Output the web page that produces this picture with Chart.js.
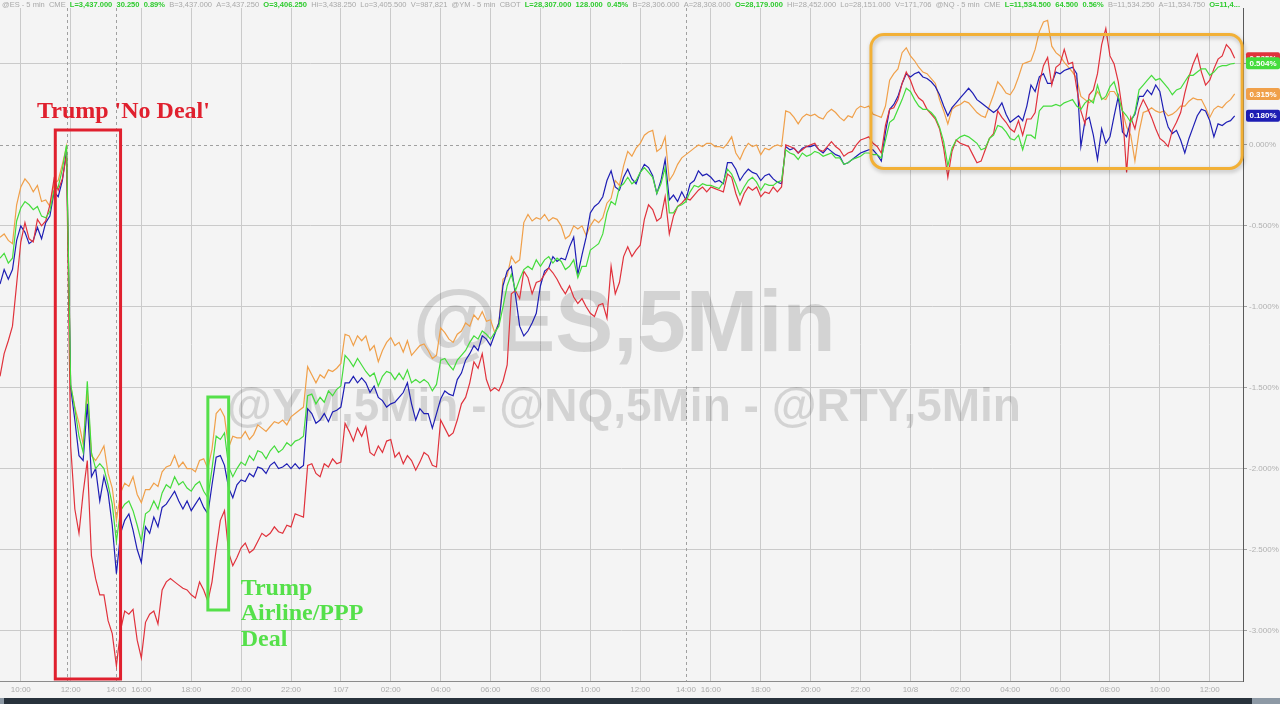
<!DOCTYPE html>
<html><head><meta charset="utf-8">
<script src="https://cdn.jsdelivr.net/npm/chart.js@4.4.1/dist/chart.umd.min.js"></script>
<style>
html,body{margin:0;padding:0;background:#f4f4f4;overflow:hidden;}
#wrap{position:relative;width:1280px;height:704px;}
</style></head><body>
<div id="wrap"><canvas id="c" width="1280" height="704"></canvas></div>
<script>
// ---- trading sessions (10-minute bars, end-stamped, Pacific time) ----
const sessions = [
  ['10/6','09:10','13:20'], ['10/6','13:40','14:00'], ['10/6','15:10','24:00'],
  ['10/7','00:10','13:20'], ['10/7','13:40','14:00'], ['10/7','15:10','24:00'],
  ['10/8','00:10','13:20']
];
const eventMarkers = ['10/6 11:50'];
const tickHours = [0,2,4,6,8,10,12,14,16,18,20,22];

// ---- series values, in hundredths of a percent ----
const esBp = [-70,-67,-73,-70,-47,-39,-35,-37,-40,-38,-44,-45,-41,-28,-26,-15,0,
-148,-163,-180,-190,-146,-190,-200,-197,-200,-210,-222,-245,
-226,-222,-220,-226,-235,-245,-228,-226,-220,-225,-215,-210,-212,-205,-210,-208,-212,-214,-210,-208,-214,-218,-200,-180,-182,-178,
-199,-205,-200,-196,-198,-192,-195,-189,-190,-194,-189,-186,-190,-188,-184,-186,-183,-182,-180,
-155,-154,-160,-156,-159,-152,-155,-151,-149,
-130,-133,-137,-132,-136,-140,-143,-141,-149,-143,-140,-141,-145,-141,-145,-139,-147,-145,-147,-145,-147,-152,-148,
-133,-132,-136,-139,-133,-130,-127,-122,-118,-120,-115,-117,-120,-116,-112,-100,-87,-80,-90,-83,
-77,-75,-77,-71,-75,-71,-69,-73,-70,-72,-77,-75,-71,-82,-75,-75,-65,-63,-61,-55,-42,-35,-37,-26,
-24,-20,-24,-22,-17,
-14,-17,-20,-30,-24,-14,-42,-42,-38,-37,-35,-29,-25,-26,-24,-25,-25,-26,-27,-23,-15,-18,-24,-31,-26,-22,-20,-23,-28,-24,-25,-25,-23,-22,
-3,-5,-6,-9,-5,-7,-6,-4,-5,-7,-6,-5,-8,-8,-12,-11,-9,-8,-7,-5,-5,-6,-6,-8,3,14,16,22,28,35,33,28,24,22,
22,20,17,11,2,-13,-2,3,5,6,5,3,1,-3,-2,4,6,12,11,8,4,3,6,-3,6,6,4,21,24,24,24,25,24,26,27,28,24,22,26,28,26,37,28,30,36,39,30,21,18,14,20,34,37,40,43,40,41,38,35,31,34,35,39,43,43,45,47,47,43,45,48,49,49,50,50.4];

const rtyBp = [-143,-129,-121,-112,-86,-60,-48,-58,-60,-46,-50,-47,-37,-21,-28,-21,-6,
-186,-225,-240,-215,-195,-254,-268,-278,-278,-294,-302,-322,
-300,-288,-290,-287,-306,-317,-295,-290,-288,-296,-275,-270,-268,-270,-272,-274,-275,-278,-280,-270,-275,-282,-270,-250,-232,-226,
-252,-260,-255,-249,-246,-252,-250,-245,-240,-242,-240,-236,-239,-240,-235,-236,-228,-229,-230,
-198,-197,-203,-205,-197,-199,-194,-197,-196,
-172,-177,-183,-175,-180,-174,-190,-192,-186,-190,-183,-182,-193,-190,-197,-192,-195,-201,-196,-190,-192,-198,-199,
-170,-175,-180,-178,-170,-160,-156,-147,-134,-138,-129,-145,-152,-150,-152,-146,-136,-92,-90,-95,
-78,-82,-92,-85,-84,-80,-76,-79,-83,-88,-92,-87,-94,-98,-95,-100,-104,-106,-99,-98,-107,-75,-92,-85,
-69,-63,-69,-65,-62,
-46,-37,-40,-47,-45,-32,-55,-44,-38,-36,-33,-34,-31,-28,-26,-29,-26,-27,-28,-29,-18,-20,-30,-37,-30,-26,-28,-26,-32,-29,-30,-26,-29,-26,
0,-1,-2,-5,-3,-1,0,1,-3,-4,-1,2,-1,-3,-7,-5,-4,0,3,4,5,1,-1,-5,12,22,23,28,38,45,40,33,29,27,
22,19,16,10,-2,-20,-4,3,1,0,-1,-6,-11,-10,-3,4,7,21,17,14,10,8,15,6,16,16,20,38,49,54,37,48,50,59,50,51,35,21,13,31,34,44,62,72,55,50,39,21,-17,17,10,22,28,23,17,10,4,2,-1,9,14,20,32,42,50,56,45,37,40,47,53,55,62,59,53.5];

const nqBp = [-86,-77,-83,-77,-59,-50,-54,-61,-59,-51,-58,-48,-44,-29,-32,-22,-4,
-150,-170,-192,-195,-160,-205,-200,-220,-205,-215,-235,-265,
-240,-232,-228,-238,-250,-258,-236,-240,-230,-236,-224,-222,-218,-214,-220,-225,-220,-226,-222,-218,-224,-228,-210,-193,-192,-198,
-212,-218,-210,-207,-208,-203,-205,-199,-200,-203,-198,-196,-200,-199,-197,-200,-197,-200,-198,
-163,-166,-172,-170,-166,-171,-165,-164,-162,
-147,-147,-143,-147,-144,-147,-153,-149,-156,-158,-162,-160,-159,-156,-153,-147,-160,-170,-163,-166,-166,-175,-166,
-157,-152,-154,-155,-145,-141,-133,-129,-124,-127,-118,-120,-124,-117,-110,-87,-78,-75,-93,-112,
-118,-115,-110,-104,-87,-78,-76,-69,-72,-70,-71,-63,-57,-80,-68,-57,-42,-38,-36,-32,-22,-16,-26,-28,
-20,-15,-21,-24,-17,
-12,-14,-19,-30,-22,-9,-34,-31,-35,-29,-34,-24,-22,-16,-19,-18,-20,-23,-22,-24,-11,-11,-15,-22,-18,-15,-17,-18,-22,-19,-18,-21,-23,-24,
-1,-3,-2,-5,-2,-1,-1,0,-3,-5,-2,-4,-6,-7,-12,-11,-9,-7,-5,-4,-3,-3,-6,-10,8,22,25,30,38,44,42,44,45,42,
41,39,36,31,24,18,23,26,29,32,35,32,28,26,24,22,20,22,26,19,14,16,18,15,24,37,33,42,44,38,38,45,44,46,47,48,44,-1,15,17,6,-9,10,1,5,18,30,8,5,15,19,30,30,34,31,37,33,20,11,7,9,3,-5,4,11,18,22,21,15,5,13,12,14,15,18.0];

const ymBp = [-57,-55,-59,-61,-37,-26,-21,-24,-29,-25,-35,-34,-38,-24,-22,-12,-1,
-149,-162,-172,-185,-152,-192,-195,-191,-186,-203,-212,-232,
-215,-209,-211,-205,-216,-221,-213,-213,-209,-211,-202,-199,-198,-192,-199,-196,-200,-200,-202,-195,-194,-200,-188,-166,-163,-168,
-187,-180,-181,-181,-177,-182,-179,-173,-175,-177,-174,-171,-172,-170,-173,-168,-166,-164,-162,
-137,-142,-147,-142,-144,-139,-140,-138,-135,
-117,-118,-124,-118,-121,-118,-127,-124,-134,-127,-122,-119,-124,-122,-128,-121,-130,-127,-124,-123,-127,-132,-130,
-113,-116,-120,-122,-117,-115,-110,-112,-105,-108,-103,-109,-108,-116,-110,-83,-81,-69,-73,-71,
-48,-43,-47,-45,-46,-43,-47,-45,-46,-50,-58,-56,-50,-52,-50,-56,-50,-46,-48,-45,-36,-33,-22,-25,
-13,-4,-7,-2,1,
6,8,9,-4,-2,5,-22,-18,-12,-8,-6,-4,-2,0,-1,1,1,-1,-1,-2,1,5,-5,-9,-3,1,-1,0,-6,-2,-3,-1,0,-1,
21,20,17,13,17,19,18,19,17,16,20,22,20,17,15,18,17,22,24,23,24,19,18,17,24,40,44,47,57,60,55,52,48,45,
44,41,38,28,21,13,22,24,25,27,26,23,20,18,17,24,31,39,36,32,31,35,42,50,51,52,59,70,76,77,61,57,55,51,48,45,41,30,28,26,28,33,29,28,33,33,29,21,11,6,-10,8,20,21,23,21,20,21,18,19,21,24,24,27,29,28,28,23,17,22,24,23,26,28,31.5];

const seriesNames = ['ES','RTY','NQ','YM'];
const seriesColors = ['#45dc3c','#e0323c','#1e1eb4','#f0a04a'];

// ---- header text ----
const headerParts = [
 ['@ES - 5 min  CME  ',0],['L=3,437.000  30.250  0.89%  ',1],['B=3,437.000  A=3,437.250  ',0],['O=3,406.250  ',1],
 ['Hi=3,438.250  Lo=3,405.500  V=987,821  @YM - 5 min  CBOT  ',0],['L=28,307.000  128.000  0.45%  ',1],
 ['B=28,306.000  A=28,308.000  ',0],['O=28,179.000  ',1],['Hi=28,452.000  Lo=28,151.000  V=171,706  @NQ - 5 min  CME  ',0],
 ['L=11,534.500  64.500  0.56%  ',1],['B=11,534.250  A=11,534.750  ',0],['O=11,4...',1]
];
const watermark = ['@ES,5Min','@YM,5Min - @NQ,5Min - @RTY,5Min'];

// ---- build categories ----
const pad = n => String(n).padStart(2,'0');
const categories = [];
for (const [date,start,end] of sessions) {
  const [h0,m0] = start.split(':').map(Number), [h1,m1] = end.split(':').map(Number);
  for (let t = h0*60+m0; t <= h1*60+m1; t += 10) {
    let hh = Math.floor(t/60), mm = t%60, d = date;
    if (hh === 24) { hh = 0; const [mo,da] = date.split('/'); d = mo+'/'+(+da+1); }
    categories.push(d+' '+pad(hh)+':'+pad(mm));
  }
}
const toPct = a => a.map(v => v/100);
const parseCat = s => { const [d,t] = s.split(' '); const [hh,mm] = t.split(':').map(Number); return {d,hh,mm}; };
const isTick = i => { const c = parseCat(categories[i]); return c.mm===0 && tickHours.includes(c.hh); };
const isSessionEnd = i => { const c = parseCat(categories[i]); return c.hh===14 && c.mm===0; };
const dashedIdx = categories.map((c,i)=>i).filter(isSessionEnd).concat(eventMarkers.map(m=>categories.indexOf(m)));

// ---- annotations (data coordinates) ----
const notes = {
  redBox:   {x0:13.3, x1:29.0, y0:0.092, y1:-3.30, color:'#e0202e', w:3},
  greenBox: {x0:50.0, x1:55.0, y0:-1.557, y1:-2.874, color:'#55e04a', w:3},
  orangeBox:{x0:209.5, x1:298.8, y0:0.683, y1:-0.145, color:'#f2b036', w:3, r:13},
  redText:  {x:8.9, y:0.166, lines:["Trump 'No Deal'"], color:'#e0202e', lh:0},
  greenText:{x:57.9, y:-2.78, lines:['Trump','Airline/PPP','Deal'], color:'#55e04a', lh:-0.157},
  wm: {x:150.1, y:[-1.274,-1.705]}
};

const decor = {
  id:'decor',
  beforeDatasetsDraw(chart){
    const {ctx, chartArea:a, scales:{x,y}} = chart;
    ctx.save();
    ctx.strokeStyle = '#a0a0a0'; ctx.lineWidth = 1; ctx.setLineDash([3,3]);
    const yz = Math.round(y.getPixelForValue(0))+0.5;
    ctx.beginPath(); ctx.moveTo(a.left,yz); ctx.lineTo(a.right,yz); ctx.stroke();
    for (const i of dashedIdx) {
      const px = Math.round(x.getPixelForValue(i))+0.5;
      ctx.beginPath(); ctx.moveTo(px,a.top); ctx.lineTo(px,a.bottom); ctx.stroke();
    }
    ctx.setLineDash([]);
    ctx.fillStyle = 'rgba(0,0,0,0.135)'; ctx.textAlign = 'center'; ctx.textBaseline = 'alphabetic';
    const cx = x.getPixelForValue(notes.wm.x);
    ctx.font = "bold 87px 'Liberation Sans', Arial, sans-serif";
    ctx.fillText(watermark[0], cx, y.getPixelForValue(notes.wm.y[0]));
    ctx.font = "bold 46px 'Liberation Sans', Arial, sans-serif";
    ctx.fillText(watermark[1], cx, y.getPixelForValue(notes.wm.y[1]));
    ctx.restore();
  },
  afterDatasetsDraw(chart){
    const {ctx, scales:{x,y}} = chart;
    ctx.save();
    const rect = (b) => {
      const X0=x.getPixelForValue(b.x0), X1=x.getPixelForValue(b.x1), Y0=y.getPixelForValue(b.y0), Y1=y.getPixelForValue(b.y1);
      ctx.strokeStyle=b.color; ctx.lineWidth=b.w;
      ctx.beginPath();
      if (b.r) ctx.roundRect(X0,Y0,X1-X0,Y1-Y0,b.r); else ctx.rect(X0,Y0,X1-X0,Y1-Y0);
      ctx.stroke();
    };
    ctx.save();
    ctx.shadowColor='rgba(0,0,0,0.25)'; ctx.shadowBlur=4; ctx.shadowOffsetX=1; ctx.shadowOffsetY=2;
    rect(notes.orangeBox);
    ctx.restore();
    rect(notes.redBox); rect(notes.greenBox);
    ctx.font = "bold 24px 'Liberation Serif', 'Times New Roman', serif";
    ctx.textAlign='left'; ctx.textBaseline='alphabetic';
    for (const t of [notes.redText, notes.greenText]) {
      ctx.fillStyle = t.color;
      t.lines.forEach((s,k) => ctx.fillText(s, x.getPixelForValue(t.x), y.getPixelForValue(t.y + k*t.lh)));
    }
    ctx.restore();
  },
  afterDraw(chart){
    const {ctx, chartArea:a, scales:{y}} = chart;
    ctx.save();
    // header
    ctx.textBaseline='middle';
    let total=0;
    const fonts = ["8px 'Liberation Sans', Arial, sans-serif","bold 8px 'Liberation Sans', Arial, sans-serif"];
    for (const [s,b] of headerParts){ ctx.font=fonts[b]; total+=ctx.measureText(s).width; }
    const k = 1238/total;
    ctx.save(); ctx.translate(2,5); ctx.scale(k,1);
    let px=0;
    for (const [s,b] of headerParts){ ctx.font=fonts[b]; ctx.fillStyle=b?'#2ecb2e':'#a8a8a8'; ctx.fillText(s,px,0); px+=ctx.measureText(s).width; }
    ctx.restore();
    // last-value tags
    const data = chart.data.datasets;
    const order = [1,2,3,0];
    ctx.font="bold 8px 'Liberation Sans', Arial, sans-serif"; ctx.textAlign='center'; ctx.textBaseline='middle';
    for (const i of order){
      const d = data[i].data; const v = d[d.length-1];
      const py = y.getPixelForValue(v);
      ctx.fillStyle = data[i].borderColor;
      ctx.beginPath(); ctx.roundRect(a.right+3, py-6, 34, 12, 2); ctx.fill();
      ctx.fillStyle='#ffffff';
      ctx.fillText(v.toFixed(3)+'%', a.right+20, py+0.5);
    }
    // bottom scroll strip
    ctx.fillStyle='#28323c'; ctx.fillRect(0,698,1280,6);
    ctx.fillStyle='#8d99a5'; ctx.fillRect(1252,698,28,6); ctx.fillRect(0,698,4,6);
    ctx.restore();
  }
};

const allBp = [esBp, rtyBp, nqBp, ymBp];
new Chart(document.getElementById('c'), {
  type:'line',
  data:{
    labels: categories,
    datasets: seriesNames.map((n,i)=>({label:n, data:toPct(allBp[i]), borderColor:seriesColors[i], backgroundColor:seriesColors[i], borderWidth:1.2, pointRadius:0, tension:0, fill:false}))
  },
  options:{
    responsive:false, animation:false, devicePixelRatio:1,
    layout:{padding:{top:8,left:0,right:0,bottom:5}},
    plugins:{legend:{display:false}, tooltip:{enabled:false}},
    scales:{
      x:{
        type:'category', offset:false,
        grid:{drawTicks:false, lineWidth:1, color:(c)=>{ const v=c.tick?c.tick.value:-1; return (v>=0 && isTick(v) && !isSessionEnd(v)) ? '#cacaca' : 'rgba(0,0,0,0)'; }},
        border:{color:'#8c8c8c', width:1},
        ticks:{autoSkip:false, maxRotation:0, minRotation:0, padding:4, color:'#acacac', font:{size:8, family:"'Liberation Sans', Arial, sans-serif"},
          callback:function(v){ const c=parseCat(this.getLabelForValue(v)); if(c.mm!==0||!tickHours.includes(c.hh)) return null; return c.hh===0 ? c.d : pad(c.hh)+':00'; }}
      },
      y:{
        position:'right', min:-3.315, max:0.846,
        afterFit(s){ s.width = 37; },
        afterBuildTicks(s){ s.ticks = s.ticks.filter(t => Math.abs(t.value*2 - Math.round(t.value*2)) < 1e-6); },
        grid:{drawTicks:true, tickLength:4, tickColor:'#a0a0a0', lineWidth:1, color:(c)=> (c.tick && Math.abs(c.tick.value)<1e-9) ? 'rgba(0,0,0,0)' : '#cacaca'},
        border:{color:'#5a5a5a', width:1},
        ticks:{stepSize:0.5, padding:2, color:'#b0b0b0', font:{size:8, family:"'Liberation Sans', Arial, sans-serif"}, callback:v=>v.toFixed(3)+'%'}
      }
    }
  },
  plugins:[decor]
});
</script>
</body></html>
